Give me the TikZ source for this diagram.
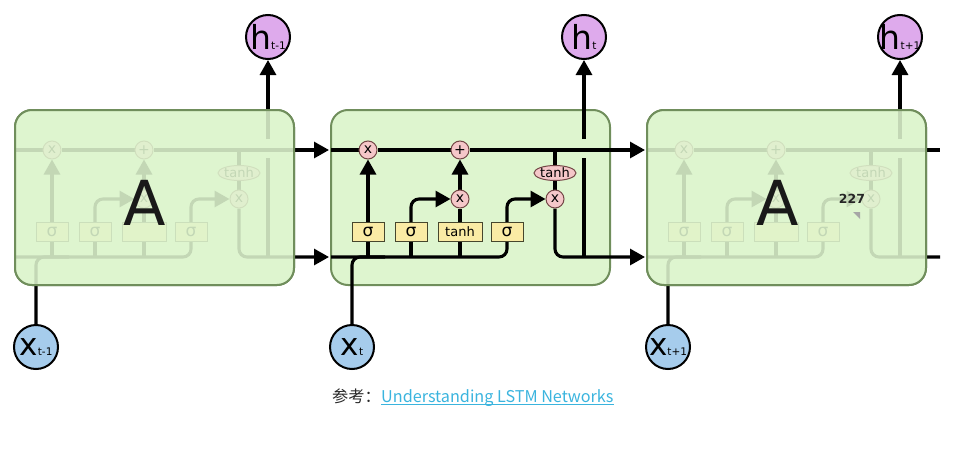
\documentclass[tikz,border=0pt]{standalone}
\usepackage{fontspec}
\setmainfont{DejaVu Sans}
\newfontfamily\cjk{Noto Sans CJK SC}
\usetikzlibrary{arrows.meta,shapes.geometric}
\pgfdeclarelayer{cellbg}
\pgfdeclarelayer{wires}
\pgfdeclarelayer{veil}
\pgfdeclarelayer{ontop}
\pgfsetlayers{cellbg,wires,main,veil,ontop}
\definecolor{cellfill}{RGB}{222,245,207}
\definecolor{cellline}{RGB}{112,142,92}
\definecolor{gatepink}{RGB}{245,199,201}
\definecolor{gateline}{RGB}{115,70,70}
\definecolor{layeryellow}{RGB}{250,235,165}
\definecolor{layerline}{RGB}{70,70,45}
\definecolor{hpurple}{RGB}{222,170,236}
\definecolor{xblue}{RGB}{166,204,236}
\definecolor{linkblue}{RGB}{58,180,222}
\definecolor{captext}{RGB}{40,40,40}
\tikzset{
  wire/.style={line width=3.1pt, black},
  arr/.style={wire, -{Triangle[length=15pt,width=16pt]}},
  cellbox/.style={draw=cellline, line width=2pt, fill=cellfill, rounded corners=17pt,
    minimum width=279pt, minimum height=175pt, inner sep=0pt},
  veilbox/.style={cellbox, fill opacity=0.88},
  gate/.style={circle, draw=gateline, line width=1pt, fill=gatepink, minimum size=18pt,
    inner sep=0pt, font=\fontsize{14}{14}\selectfont},
  tanhgate/.style={ellipse, draw=gateline, line width=1pt, fill=gatepink, minimum width=42pt,
    minimum height=15pt, inner sep=0pt, font=\fontsize{13}{13}\selectfont},
  layerbox/.style={rectangle, draw=layerline, line width=1pt, fill=layeryellow,
    minimum width=32pt, minimum height=19pt, inner sep=0pt},
  sigmatext/.style={font=\fontsize{17}{17}\selectfont},
  tanhtext/.style={font=\fontsize{13}{13}\selectfont},
  hcirc/.style={circle, draw=black, line width=2pt, fill=hpurple, minimum size=44pt, inner sep=0pt},
  xcirc/.style={circle, draw=black, line width=2pt, fill=xblue, minimum size=44pt, inner sep=0pt},
  bigA/.style={font=\fontsize{62}{62}\selectfont, inner sep=0pt, text=black!90},
}
\newcommand\hlab[1]{{\fontsize{33}{33}\selectfont h}{\fontsize{10.5}{10.5}\selectfont #1}}
\newcommand\xlab[1]{{\fontsize{31}{31}\selectfont x}{\fontsize{10.5}{10.5}\selectfont #1}}
% #1 shift, #2 prefix, #3 output style, #4 output end x, #5 h label, #6 x label, #7 tanh layer text
\newcommand\lstmcell[7]{%
\begin{scope}[shift={(#1,0)}, name prefix=#2-]
  \begin{pgfonlayer}{cellbg}
    \node[cellbox] (box) at (470.5,197.5) {};
  \end{pgfonlayer}
  \node[gate] (fx) at (368,150) {x};
  \node[gate] (pl) at (460,150) {+};
  \node[gate] (ix) at (460,199) {x};
  \node[gate] (ox) at (555,199) {x};
  \node[tanhgate] (th) at (555,173) {tanh};
  \node[layerbox, sigmatext] (s1) at (368,232) {σ};
  \node[layerbox, sigmatext] (s2) at (411,232) {σ};
  \node[layerbox, tanhtext, minimum width=44pt] (tb) at (460,232) {#7};
  \node[layerbox, sigmatext] (s3) at (507,232) {σ};
  \node[hcirc, label={center:\hlab{#5}}] (h) at (584,37) {};
  \node[xcirc, label={center:\xlab{#6}}] (x) at (352,347) {};
  \coordinate (cin) at (331,150);
  \coordinate (bin) at (331,257);
  \coordinate (co) at (#4,150);
  \coordinate (ho) at (#4,257);
  \coordinate (xj) at (385,257);
  \coordinate (cs) at (555,150);
  \coordinate (hb) at (584,257);
  \coordinate (hg1) at (584,158);
  \coordinate (hg2) at (584,139);
  \begin{pgfonlayer}{wires}
    \draw[#3] (cin) -- (fx) -- (pl) -- (co);
    \draw[wire, rounded corners=8pt] (bin) -| (s3.south);
    \draw[wire, rounded corners=8pt] (x) |- (xj);
    \draw[wire] (s1.south) -- (s1.south |- bin);
    \draw[wire] (s2.south) -- (s2.south |- bin);
    \draw[wire] (tb.south) -- (tb.south |- bin);
    \draw[arr] (s1) -- (fx);
    \draw[arr, rounded corners=8pt] (s2.north) |- (ix);
    \draw[wire] (tb) -- (ix);
    \draw[arr] (ix) -- (pl);
    \draw[arr, rounded corners=8pt] (s3.north) |- (ox);
    \draw[wire] (cs) -- (th);
    \draw[wire] (th) -- (ox);
    \draw[#3, rounded corners=8pt] (ox) |- (ho);
    \draw[wire] (hb) -- (hg1);
    \draw[arr] (hg2) -- (h);
  \end{pgfonlayer}
\end{scope}}
\begin{document}
\begin{tikzpicture}[x=1pt, y=-1pt]
  \useasboundingbox (0,0) rectangle (971,455);
  \lstmcell{-316}{L}{arr}{645}{t-1}{t-1}{}
  \lstmcell{0}{M}{arr}{645}{t}{t}{tanh}
  \lstmcell{316}{R}{wire}{624}{t+1}{t+1}{}
  \begin{pgfonlayer}{veil}
    \node[veilbox] (Lveil) at (154.5,197.5) {};
    \node[veilbox] (Rveil) at (786.5,197.5) {};
  \end{pgfonlayer}
  \begin{pgfonlayer}{ontop}
    \node[bigA] (LA) at (145,203) {A};
    \node[bigA] (RA) at (778,203) {A};
    \node[font=\bfseries\fontsize{12.5}{12.5}\selectfont, text=black!85, inner sep=0pt] (num) at (852,199) {227};
    \fill[black!35] (853,212) -- (860,212) -- (860,219) -- cycle;
  \end{pgfonlayer}
  \node[anchor=base west, inner sep=0pt, font=\cjk\fontsize{16.2}{16.2}\selectfont, text=captext] (cap) at (332,402) {参考：};
  \node[anchor=base west, inner sep=0pt, font=\cjk\fontsize{16.2}{16.2}\selectfont, text=linkblue] (lnk) at (cap.base east) {Understanding LSTM Networks};
  \draw[linkblue, line width=1pt] ([yshift=-2.2pt]lnk.base west) -- ([yshift=-2.2pt]lnk.base east);
\end{tikzpicture}
\end{document}
